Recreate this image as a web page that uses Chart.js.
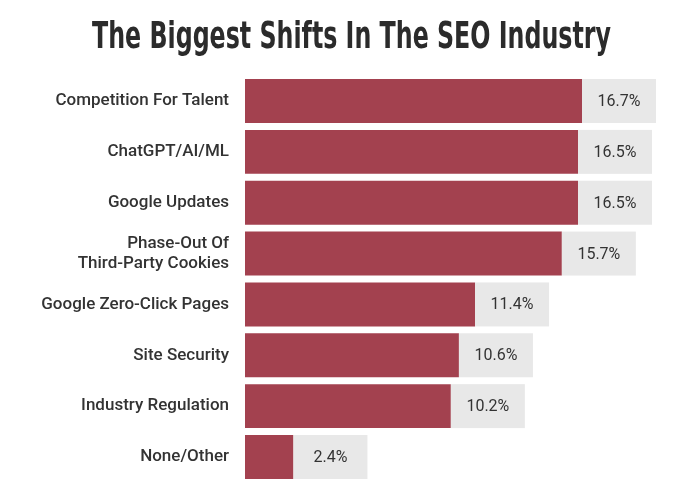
<!DOCTYPE html>
<html>
<head>
<meta charset="utf-8">
<script src="https://cdn.jsdelivr.net/npm/chart.js@4/dist/chart.umd.min.js"></script>
<style>
  html, body { margin: 0; padding: 0; background: #ffffff; }
  #wrap { width: 700px; height: 500px; position: relative; }
</style>
</head>
<body>
<div id="wrap"><canvas id="c" width="700" height="500"></canvas></div>
<script>
const titleText = "The Biggest Shifts In The SEO Industry";
const categories = [
  "Competition For Talent",
  "ChatGPT/AI/ML",
  "Google Updates",
  ["Phase-Out Of", "Third-Party Cookies"],
  "Google Zero-Click Pages",
  "Site Security",
  "Industry Regulation",
  "None/Other"
];
const values = [16.7, 16.5, 16.5, 15.7, 11.4, 10.6, 10.2, 2.4];
const valueLabels = ["16.7%", "16.5%", "16.5%", "15.7%", "11.4%", "10.6%", "10.2%", "2.4%"];

const BAR_COLOR = "#a3414f";
const BOX_COLOR = "#e8e8e8";
const TEXT_COLOR = "#333333";
const BOX_W = 74;

// condensed title drawn as real canvas text, squeezed horizontally
const condensedTitle = {
  id: "condensedTitle",
  afterDraw(chart) {
    const ctx = chart.ctx;
    ctx.save();
    ctx.font = "bold 38px 'DejaVu Sans Condensed', 'DejaVu Sans', sans-serif";
    ctx.fillStyle = "#2b2b2b";
    ctx.textAlign = "left";
    ctx.textBaseline = "alphabetic";
    const w = ctx.measureText(titleText).width;
    const target = 519;
    const sx = target / w;
    ctx.translate(351.5 - target / 2, 48);
    ctx.scale(sx, 1);
    ctx.fillText(titleText, 0, 0);
    ctx.restore();
  }
};

const labelBoxes = {
  id: "labelBoxes",
  afterDatasetsDraw(chart) {
    const ctx = chart.ctx;
    const meta = chart.getDatasetMeta(0);
    ctx.save();
    meta.data.forEach((el, i) => {
      const top = el.y - el.height / 2;
      ctx.fillStyle = BOX_COLOR;
      ctx.fillRect(el.x, top, BOX_W, el.height);
      ctx.fillStyle = TEXT_COLOR;
      ctx.font = "400 16px Roboto";
      ctx.textAlign = "center";
      ctx.textBaseline = "middle";
      ctx.fillText(valueLabels[i], el.x + BOX_W / 2, el.y + 1);
    });
    ctx.restore();
  }
};

new Chart(document.getElementById("c"), {
  type: "bar",
  data: {
    labels: categories,
    datasets: [{
      data: values,
      backgroundColor: BAR_COLOR,
      borderWidth: 0,
      barPercentage: 0.865,
      categoryPercentage: 1.0
    }]
  },
  options: {
    indexAxis: "y",
    responsive: false,
    animation: false,
    devicePixelRatio: 1,
    layout: { padding: { left: 0, right: 11, top: 75.6, bottom: 17.6 } },
    plugins: {
      legend: { display: false },
      tooltip: { enabled: false },
      title: { display: false }
    },
    scales: {
      x: {
        display: false,
        min: 0,
        max: 22
      },
      y: {
        grid: { display: false, drawTicks: false },
        border: { display: false },
        afterFit(scale) { scale.width = 245; scale.paddingTop = 0; scale.paddingBottom = 0; },
        ticks: {
          padding: 16,
          color: TEXT_COLOR,
          font: { family: "Roboto", size: 17, weight: "500", lineHeight: 1.2 }
        }
      }
    }
  },
  plugins: [condensedTitle, labelBoxes]
});
</script>
</body>
</html>
